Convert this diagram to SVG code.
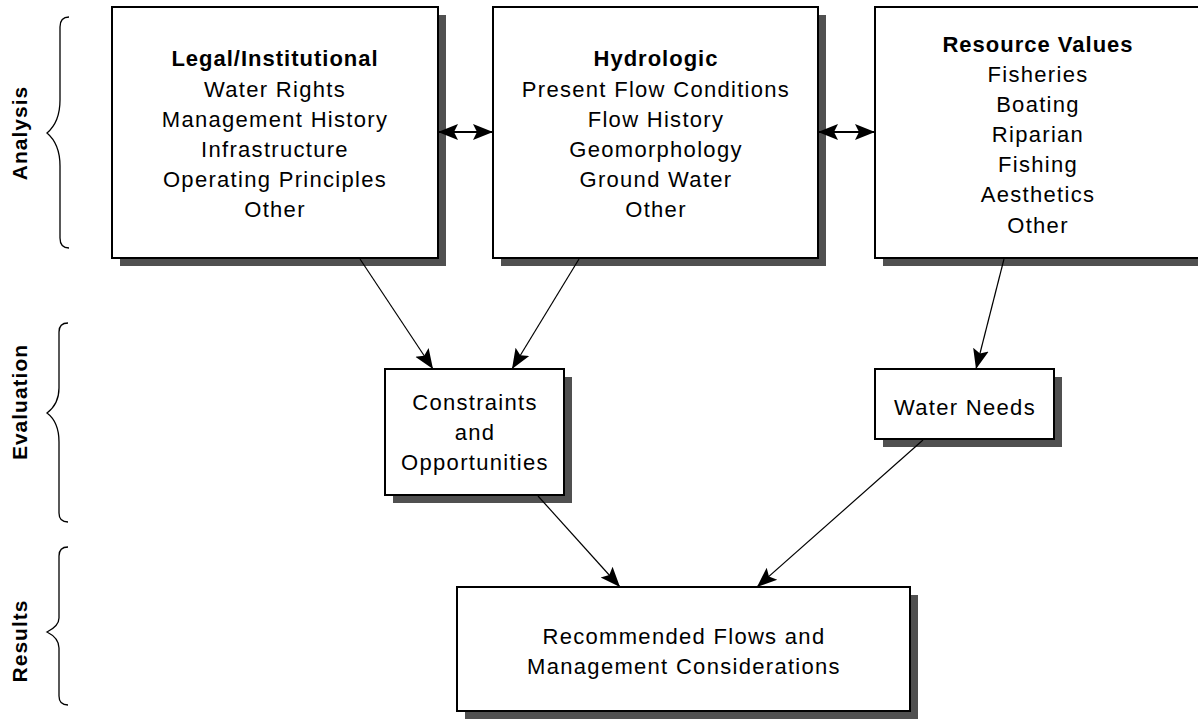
<svg xmlns="http://www.w3.org/2000/svg" width="1198" height="719" viewBox="0 0 1198 719">
<style>
.sh{fill:#505050;}
.bx{fill:#fff;stroke:#000;stroke-width:2;}
.t{font-family:"Liberation Sans",Arial,sans-serif;font-size:22px;letter-spacing:1.3px;text-anchor:middle;fill:#000;}
.b{font-weight:bold;letter-spacing:1px;}
.lab{font-family:"Liberation Sans",Arial,sans-serif;font-size:21px;font-weight:bold;letter-spacing:1px;text-anchor:middle;fill:#000;}
.br{fill:none;stroke:#000;stroke-width:1.3;}
.c{fill:none;stroke:#000;stroke-width:1.2;}
.d{fill:none;stroke:#000;stroke-width:1.8;}
</style>
<defs>
<marker id="ah" viewBox="0 0 20 20" refX="20" refY="10" markerWidth="20" markerHeight="20" markerUnits="userSpaceOnUse" orient="auto-start-reverse">
<path d="M0,2 L20,10 L0,18 L4,10 Z" fill="#000"/>
</marker>
</defs>
<rect width="1198" height="719" fill="#fff"/>

<g id="labels">
<text class="lab" transform="translate(27,133) rotate(-90)">Analysis</text>
<text class="lab" transform="translate(27,402) rotate(-90)">Evaluation</text>
<text class="lab" transform="translate(27,641) rotate(-90)">Results</text>
<path class="br" d="M69,17 Q60,17 60,27 L60,100 Q60,122 47,133 Q60,144 60,166 L60,238 Q60,248 69,248"/>
<path class="br" d="M68,323 Q59,323 59,332 L59,388 Q59,404 47,413 Q59,422 59,442 L59,513 Q59,522 68,522"/>
<path class="br" d="M68,547 Q59,547 59,556 L59,618 Q59,626 47,632 Q59,638 59,648 L59,696 Q59,705 68,705"/>
</g>

<g id="legal">
<rect class="sh" x="120" y="15" width="326" height="251"/>
<rect class="bx" x="112" y="7" width="326" height="251"/>
<text class="t b" x="275" y="66">Legal/Institutional</text>
<text class="t" x="275" y="97">Water Rights</text>
<text class="t" x="275" y="127">Management History</text>
<text class="t" x="275" y="157">Infrastructure</text>
<text class="t" x="275" y="187">Operating Principles</text>
<text class="t" x="275" y="217">Other</text>
</g>

<g id="hydrologic">
<rect class="sh" x="501" y="15" width="325" height="251"/>
<rect class="bx" x="493" y="7" width="325" height="251"/>
<text class="t b" x="656" y="66">Hydrologic</text>
<text class="t" x="656" y="97">Present Flow Conditions</text>
<text class="t" x="656" y="127">Flow History</text>
<text class="t" x="656" y="157">Geomorphology</text>
<text class="t" x="656" y="187">Ground Water</text>
<text class="t" x="656" y="217">Other</text>
</g>

<g id="resource">
<rect class="sh" x="883" y="15" width="326" height="251"/>
<rect class="bx" x="875" y="7" width="326" height="251"/>
<text class="t b" x="1038" y="52">Resource Values</text>
<text class="t" x="1038" y="82">Fisheries</text>
<text class="t" x="1038" y="112">Boating</text>
<text class="t" x="1038" y="142">Riparian</text>
<text class="t" x="1038" y="172">Fishing</text>
<text class="t" x="1038" y="202">Aesthetics</text>
<text class="t" x="1038" y="233">Other</text>
</g>

<g id="constraints">
<rect class="sh" x="393" y="377" width="179" height="126"/>
<rect class="bx" x="385" y="369" width="179" height="126"/>
<text class="t" x="475" y="410">Constraints</text>
<text class="t" x="475" y="440">and</text>
<text class="t" x="475" y="470">Opportunities</text>
</g>

<g id="waterneeds">
<rect class="sh" x="883" y="377" width="179" height="70"/>
<rect class="bx" x="875" y="369" width="179" height="70"/>
<text class="t" x="965" y="415">Water Needs</text>
</g>

<g id="results">
<rect class="sh" x="465" y="595" width="453" height="124"/>
<rect class="bx" x="457" y="587" width="453" height="124"/>
<text class="t" x="684" y="644">Recommended Flows and</text>
<text class="t" x="684" y="674">Management Considerations</text>
</g>

<g id="connectors">
<line class="d" x1="438" y1="132" x2="493" y2="132" marker-start="url(#ah)" marker-end="url(#ah)"/>
<line class="d" x1="818" y1="132" x2="875" y2="132" marker-start="url(#ah)" marker-end="url(#ah)"/>
<line class="c" x1="360" y1="259" x2="433" y2="369" marker-end="url(#ah)"/>
<line class="c" x1="579" y1="259" x2="512" y2="369" marker-end="url(#ah)"/>
<line class="c" x1="1004" y1="259" x2="976" y2="369" marker-end="url(#ah)"/>
<line class="c" x1="538" y1="496" x2="620" y2="587" marker-end="url(#ah)"/>
<line class="c" x1="923" y1="440" x2="757" y2="587" marker-end="url(#ah)"/>
</g>
</svg>
